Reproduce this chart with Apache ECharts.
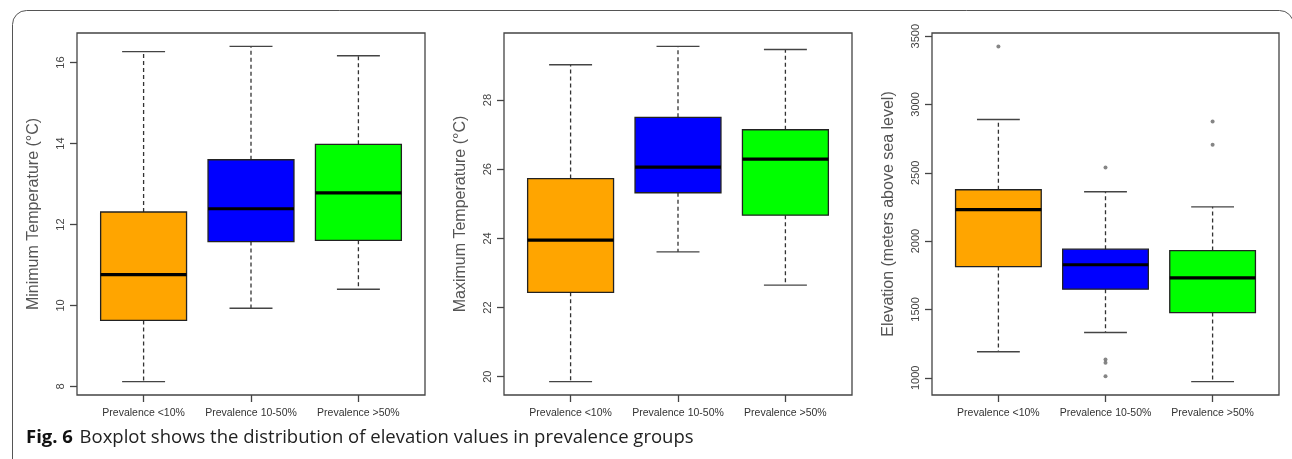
<!DOCTYPE html>
<html>
<head>
<meta charset="utf-8">
<script src="https://cdn.jsdelivr.net/npm/echarts@6/dist/echarts.min.js"></script>
<style>
html,body{margin:0;padding:0;background:#fff;}
#c{width:1292px;height:459px;}
</style>
</head>
<body>
<div id="c"></div>
<script>
// ---- data ----
const categories = ['Prevalence <10%', 'Prevalence 10-50%', 'Prevalence >50%'];
const boxColors = ['#FFA500', '#0000FF', '#00FF00'];
// [low whisker, Q1, median, Q3, high whisker]
const minTemp = [
  [8.12, 9.63, 10.76, 12.31, 16.27],
  [9.93, 11.58, 12.39, 13.60, 16.40],
  [10.40, 11.61, 12.78, 13.98, 16.17]
];
const maxTemp = [
  [19.86, 22.44, 23.95, 25.73, 29.02],
  [23.61, 25.32, 26.06, 27.50, 29.55],
  [22.65, 24.67, 26.29, 27.14, 29.46]
];
const elevation = [
  [1190, 1814, 2231, 2376, 2890],
  [1331, 1648, 1827, 1941, 2361],
  [972, 1477, 1731, 1931, 2251]
];
// outliers: [group index (1-based), value]
const elevationOutliers = [
  [1, 3425],
  [2, 2539], [2, 1133], [2, 1109], [2, 1011],
  [3, 2876], [3, 2705]
];
const minTempTicks = [8, 10, 12, 14, 16];
const maxTempTicks = [20, 22, 24, 26, 28];
const elevationTicks = [1000, 1500, 2000, 2500, 3000, 3500];
const yTitles = ['Minimum Temperature (°C)', 'Maximum Temperature (°C)', 'Elevation (meters above sea level)'];

// ---- layout ----
const grids = [
  {left: 77, top: 33, width: 348, height: 362},
  {left: 504, top: 33, width: 348, height: 362},
  {left: 932, top: 33, width: 347, height: 362}
];

function rangeOf(stats, extra) {
  let lo = Infinity, hi = -Infinity;
  stats.forEach(s => { lo = Math.min(lo, s[0]); hi = Math.max(hi, s[4]); });
  (extra || []).forEach(p => { lo = Math.min(lo, p[1]); hi = Math.max(hi, p[1]); });
  const pad = (hi - lo) * 0.04;
  return [lo - pad, hi + pad];
}

const panels = [
  {stats: minTemp, ticks: minTempTicks, outliers: []},
  {stats: maxTemp, ticks: maxTempTicks, outliers: []},
  {stats: elevation, ticks: elevationTicks, outliers: elevationOutliers}
];

const xAxes = [], yAxes = [], series = [];
panels.forEach((p, i) => {
  const r = rangeOf(p.stats, p.outliers);
  xAxes.push({
    type: 'value', gridIndex: i, min: 0.38, max: 3.62,
    splitLine: {show: false},
    axisLine: {show: false},
    axisTick: {show: true, length: 7, customValues: [1, 2, 3], lineStyle: {color: '#444', width: 1.3}},
    axisLabel: {
      show: true, customValues: [1, 2, 3], margin: 13,
      formatter: v => categories[Math.round(v) - 1] || '',
      fontFamily: 'Liberation Sans, Arial, sans-serif', fontSize: 10.5, color: '#333'
    }
  });
  yAxes.push({
    type: 'value', gridIndex: i, min: r[0], max: r[1],
    name: yTitles[i], nameLocation: 'middle', nameGap: 35,
    nameTextStyle: {fontFamily: 'Liberation Sans, Arial, sans-serif', fontSize: 16, color: '#555'},
    splitLine: {show: false},
    axisLine: {show: false},
    axisTick: {show: true, length: 7, customValues: p.ticks, lineStyle: {color: '#444', width: 1.3}},
    axisLabel: {
      show: true, customValues: p.ticks, rotate: 90, margin: 11,
      formatter: v => String(Math.round(v * 100) / 100),
      fontFamily: 'Liberation Sans, Arial, sans-serif', fontSize: 11, color: '#444'
    }
  });
  series.push({
    type: 'custom', xAxisIndex: i, yAxisIndex: i,
    data: p.stats.map((s, k) => [k + 1].concat(s)),
    renderItem: function (params, api) {
      const x = api.value(0);
      const lo = api.value(1), q1 = api.value(2), md = api.value(3), q3 = api.value(4), hi = api.value(5);
      const pL = api.coord([x - 0.4, q3]);
      const pR = api.coord([x + 0.4, q1]);
      const c = api.coord([x, md]);
      const cL = api.coord([x - 0.2, lo])[0], cR = api.coord([x + 0.2, lo])[0];
      const yLo = api.coord([x, lo])[1], yHi = api.coord([x, hi])[1];
      const yQ1 = api.coord([x, q1])[1], yQ3 = api.coord([x, q3])[1];
      const col = boxColors[params.dataIndex];
      const dash = {stroke: '#333', lineWidth: 1.3, lineDash: [4, 3]};
      const solid = {stroke: '#444', lineWidth: 1.4};
      return {
        type: 'group',
        children: [
          {type: 'line', shape: {x1: c[0], y1: yQ3, x2: c[0], y2: yHi}, style: dash},
          {type: 'line', shape: {x1: c[0], y1: yQ1, x2: c[0], y2: yLo}, style: dash},
          {type: 'line', shape: {x1: cL, y1: yHi, x2: cR, y2: yHi}, style: solid},
          {type: 'line', shape: {x1: cL, y1: yLo, x2: cR, y2: yLo}, style: solid},
          {type: 'rect', shape: {x: pL[0], y: pL[1], width: pR[0] - pL[0], height: pR[1] - pL[1]},
            style: {fill: col, stroke: '#222', lineWidth: 1.3}},
          {type: 'line', shape: {x1: pL[0], y1: c[1], x2: pR[0], y2: c[1]}, style: {stroke: '#000', lineWidth: 3.2}}
        ]
      };
    },
    silent: true, z: 2
  });
  if (p.outliers.length) {
    series.push({
      type: 'scatter', xAxisIndex: i, yAxisIndex: i,
      data: p.outliers, symbol: 'circle', symbolSize: 4,
      itemStyle: {color: '#666'}, silent: true, z: 3
    });
  }
});

const chart = echarts.init(document.getElementById('c'), null, {renderer: 'canvas'});
chart.setOption({
  animation: false,
  backgroundColor: '#fff',
  grid: grids.map(g => Object.assign({show: true, borderColor: '#444', borderWidth: 1.3, backgroundColor: 'transparent'}, g)),
  xAxis: xAxes,
  yAxis: yAxes,
  series: series,
  graphic: [
    {type: 'rect', left: 10, top: 8, shape: {width: 1281, height: 480, r: 14},
      style: {fill: 'none', stroke: '#555', lineWidth: 1}, silent: true, z: -1},
    {type: 'text', left: 26, top: 428,
      style: {
        text: '{b|Fig. 6}  {n|Boxplot shows the distribution of elevation values in prevalence groups}',
        rich: {
          b: {fontFamily: 'Open Sans, Noto Sans, sans-serif', fontWeight: 'bold', fontSize: 18.5, fill: '#111'},
          n: {fontFamily: 'Open Sans, Noto Sans, sans-serif', fontSize: 18.5, fill: '#222'}
        }
      }
    }
  ]
});
</script>
</body>
</html>
